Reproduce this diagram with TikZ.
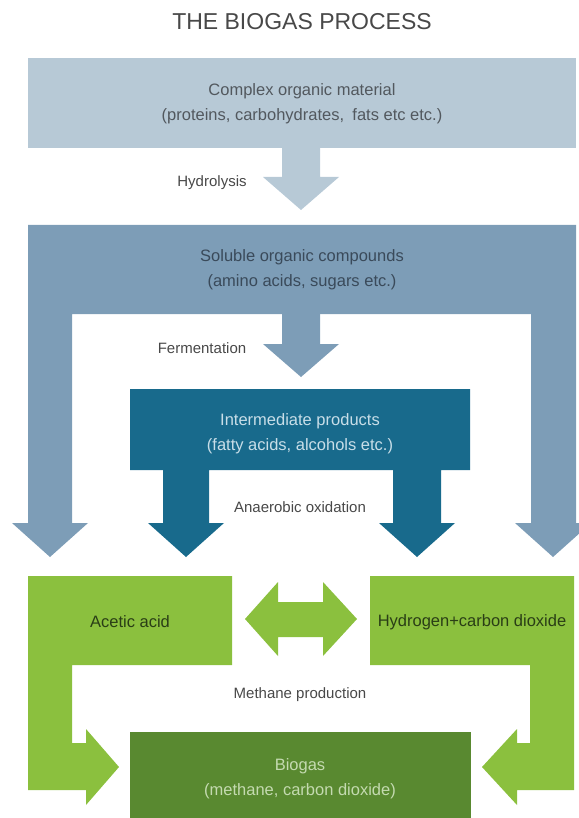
\documentclass[tikz,border=0pt]{standalone}
\usepackage{fontspec}
\setmainfont{Liberation Sans}
\usetikzlibrary{calc}

\definecolor{complexblue}{RGB}{183,201,214}
\definecolor{solubleblue}{RGB}{125,157,183}
\definecolor{interteal}{RGB}{24,106,140}
\definecolor{acidgreen}{RGB}{139,192,62}
\definecolor{biogasgreen}{RGB}{89,137,48}
\definecolor{labelgray}{RGB}{72,72,72}
\definecolor{complextext}{RGB}{82,88,94}
\definecolor{solubletext}{RGB}{58,74,90}
\definecolor{intertext}{RGB}{200,222,232}
\definecolor{acidtext}{RGB}{42,62,22}
\definecolor{biogastext}{RGB}{196,218,176}

\begin{document}
\begin{tikzpicture}[x=1pt, y=-1pt,
    boxtext/.style={align=center, inner sep=0pt, font=\fontsize{16.5}{25}\selectfont},
    steplabel/.style={inner sep=0pt, text=labelgray, font=\fontsize{15}{18}\selectfont},
  ]

  \useasboundingbox (0,0) rectangle (578,818);

  \node[inner sep=0pt, text=labelgray, font=\fontsize{23}{27}\selectfont] (title) at (302,22) {THE BIOGAS PROCESS};

  % complex organic material
  \fill[complexblue] (28,58) rectangle (576,148);
  \fill[complexblue] (282,148) -- (320,148) -- (320,177) -- (339,177) -- (301,210)
    -- (263,177) -- (282,177) -- cycle;

  % soluble organic compounds
  \fill[solubleblue] (28,225) -- (576,225) -- (576,523) -- (591,523) -- (553,557)
    -- (515,523) -- (531,523) -- (531,314) -- (72,314) -- (72,523) -- (88,523)
    -- (50,557) -- (12,523) -- (28,523) -- cycle;
  \fill[solubleblue] (282,314) -- (320,314) -- (320,344) -- (339,344) -- (301,377)
    -- (263,344) -- (282,344) -- cycle;

  % intermediate products
  \fill[interteal] (130,389) -- (470,389) -- (470,470) -- (441,470) -- (441,523)
    -- (455,523) -- (417,557) -- (379,523) -- (393,523) -- (393,470) -- (209,470)
    -- (209,523) -- (224,523) -- (186,557) -- (148,523) -- (163,523) -- (163,470)
    -- (130,470) -- cycle;

  % acetic acid
  \fill[acidgreen] (28,576) -- (232,576) -- (232,665) -- (72,665) -- (72,743)
    -- (86,743) -- (86,729) -- (119,767) -- (86,805) -- (86,790) -- (28,790) -- cycle;
  % hydrogen + carbon dioxide
  \fill[acidgreen] (574,576) -- (370,576) -- (370,665) -- (530,665) -- (530,743)
    -- (517,743) -- (517,729) -- (482,767) -- (517,805) -- (517,790) -- (574,790) -- cycle;
  % exchange
  \fill[acidgreen] (245,619) -- (278,582) -- (278,602) -- (323,602) -- (323,582)
    -- (357,619) -- (323,656) -- (323,637) -- (278,637) -- (278,656) -- cycle;

  % biogas
  \fill[biogasgreen] (130,732) rectangle (471,818);

  % texts
  \node[boxtext, text=complextext] (complex) at (302,104)
    {Complex organic material\\(proteins, carbohydrates,\hspace{0.5em}fats etc etc.)};
  \node[steplabel] (hydrolysis) at (212,183) {Hydrolysis};
  \node[boxtext, text=solubletext] (soluble) at (302,270)
    {Soluble organic compounds\\(amino acids, sugars etc.)};
  \node[steplabel] (fermentation) at (202,348) {Fermentation};
  \node[boxtext, text=intertext] (intermediate) at (300,434)
    {Intermediate products\\(fatty acids, alcohols etc.)};
  \node[steplabel] (anaerobic) at (300,507) {Anaerobic oxidation};
  \node[boxtext, text=acidtext] (acetic) at (130,622) {Acetic acid};
  \node[boxtext, text=acidtext] (hydrogen) at (472,622) {Hydrogen+carbon dioxide};
  \node[steplabel] (methane) at (300,695) {Methane production};
  \node[boxtext, text=biogastext] (biogas) at (300,779)
    {Biogas\\(methane, carbon dioxide)};
\end{tikzpicture}
\end{document}
